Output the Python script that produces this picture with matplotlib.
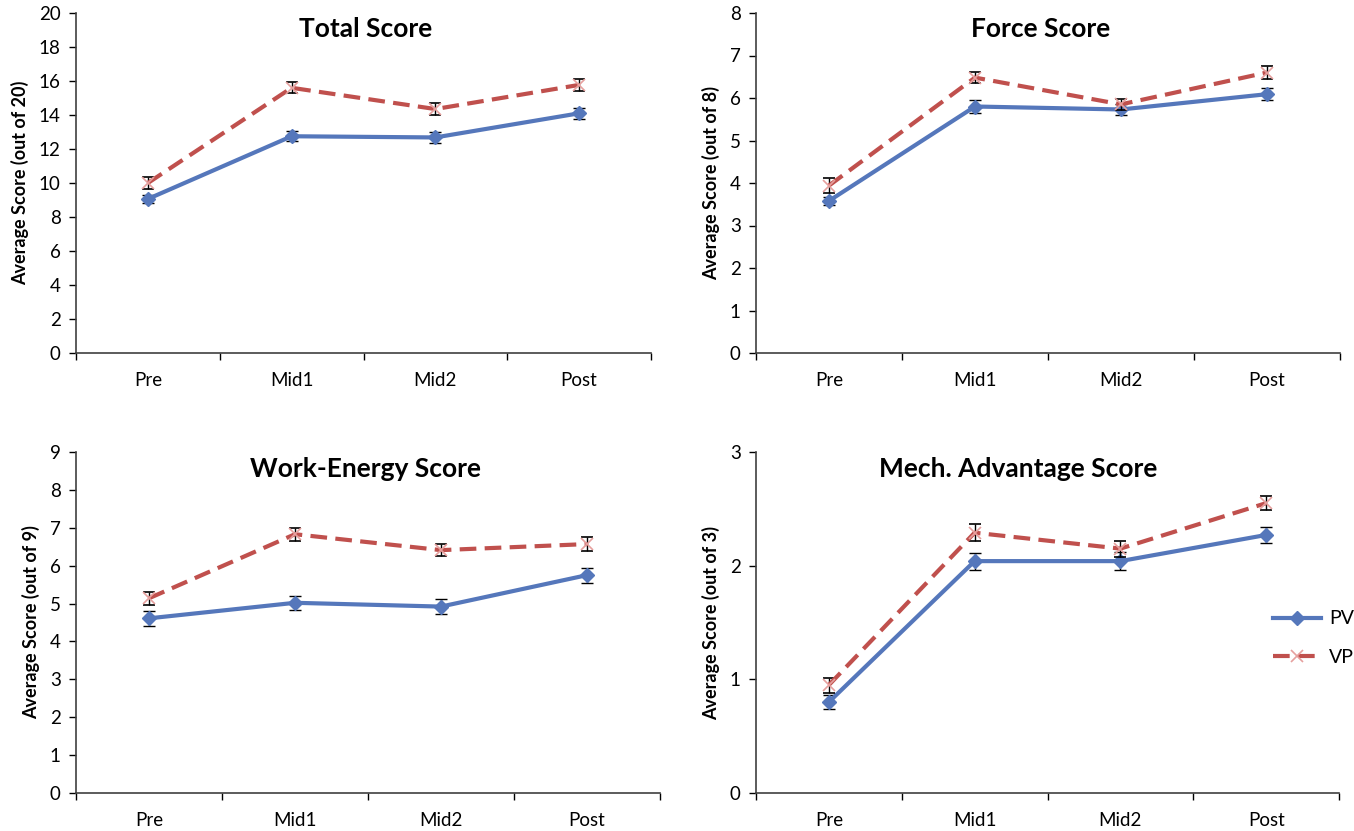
import matplotlib
matplotlib.use("Agg")
import matplotlib.pyplot as plt
from matplotlib.lines import Line2D
import numpy as np

plt.rcParams['font.family'] = ['Lato', 'DejaVu Sans']

categories = ["Pre", "Mid1", "Mid2", "Post"]

titles = ["Total Score", "Force Score", "Work-Energy Score", "Mech. Advantage Score"]
ylabels = ["Average Score (out of 20)", "Average Score (out of 8)",
           "Average Score (out of 9)", "Average Score (out of 3)"]
ymax = [20, 8, 9, 3]
ystep = [2, 1, 1, 1]

total_pv = [9.06, 12.75, 12.68, 14.1]
total_vp = [10.0, 15.6, 14.35, 15.77]
total_pv_err = [0.22, 0.3, 0.31, 0.34]
total_vp_err = [0.37, 0.32, 0.36, 0.34]

force_pv = [3.58, 5.8, 5.73, 6.09]
force_vp = [3.94, 6.48, 5.85, 6.6]
force_pv_err = [0.1, 0.15, 0.13, 0.14]
force_vp_err = [0.18, 0.13, 0.13, 0.15]

work_pv = [4.61, 5.02, 4.92, 5.75]
work_vp = [5.14, 6.83, 6.41, 6.57]
work_pv_err = [0.19, 0.18, 0.19, 0.2]
work_vp_err = [0.17, 0.17, 0.15, 0.19]

mech_pv = [0.80, 2.04, 2.04, 2.27]
mech_vp = [0.95, 2.29, 2.15, 2.55]
mech_pv_err = [0.06, 0.075, 0.078, 0.073]
mech_vp_err = [0.066, 0.076, 0.07, 0.06]

pv_series = [total_pv, force_pv, work_pv, mech_pv]
vp_series = [total_vp, force_vp, work_vp, mech_vp]
pv_errs = [total_pv_err, force_pv_err, work_pv_err, mech_pv_err]
vp_errs = [total_vp_err, force_vp_err, work_vp_err, mech_vp_err]

W, H = 1354, 831
fig = plt.figure(figsize=(W / 100, H / 100), dpi=100)

# axes boxes in pixels: left, right, top, bottom
boxes = [(76, 651, 13, 353), (756, 1340, 13, 353),
         (76, 660, 452, 793), (756, 1339, 452, 793)]
title_pos = [(366, 29), (1041, 29), (366, 469), (1018, 469)]

PV_C = '#5577BB'
VP_C = '#C0504D'
VP_M = '#E6A09E'

x = np.arange(len(categories))
for i in range(4):
    l, r, t, b = boxes[i]
    ax = fig.add_axes([l / W, 1 - b / H, (r - l) / W, (b - t) / H])
    ax.errorbar(x, pv_series[i], yerr=pv_errs[i], color=PV_C, lw=3, marker='D',
                ms=7, mfc=PV_C, mec=PV_C, ecolor='black', elinewidth=1,
                capsize=4, capthick=1, zorder=3)
    ln = ax.errorbar(x, vp_series[i], yerr=vp_errs[i], color=VP_C, lw=3,
                     marker='x', ms=9, mec=VP_M, mew=1.2, ecolor='black',
                     elinewidth=1, capsize=4, capthick=1, zorder=4)
    ln[0].set_dashes((4, 2))
    ax.set_xlim(-0.5, 3.5)
    ax.set_ylim(0, ymax[i])
    ax.set_yticks(np.arange(0, ymax[i] + 0.001, ystep[i]))
    ax.set_xticks(x)
    ax.set_xticklabels(categories)
    ax.set_xticks(np.arange(-0.5, 3.6, 1.0), minor=True)
    ax.tick_params(axis='x', which='major', length=0, pad=14, labelsize=13.5)
    ax.tick_params(axis='x', which='minor', length=5, width=1, direction='out')
    ax.tick_params(axis='y', which='major', length=5, width=1, direction='out',
                   labelsize=13.5, pad=6)
    for s in ['top', 'right']:
        ax.spines[s].set_visible(False)
    for s in ['left', 'bottom']:
        ax.spines[s].set_color('#404040')
        ax.spines[s].set_linewidth(1.2)
    ax.set_ylabel(ylabels[i], fontsize=13, fontweight='bold', labelpad=7)
    tx, ty = title_pos[i]
    fig.text(tx / W, 1 - ty / H, titles[i], ha='center', va='center',
             fontsize=19, fontweight='bold')

handles = [Line2D([], [], color=PV_C, lw=3, marker='D', ms=7),
           Line2D([], [], color=VP_C, lw=3, dashes=(4, 2), marker='x', ms=9,
                  mec=VP_M, mew=1.2)]
fig.legend(handles, ['PV', 'VP'], loc='center left',
           bbox_to_anchor=(1255 / W, 1 - 638 / H), frameon=False,
           fontsize=14, handlelength=2.5, labelspacing=1.1, handletextpad=0.4)

fig.savefig('out.png', dpi=100)
